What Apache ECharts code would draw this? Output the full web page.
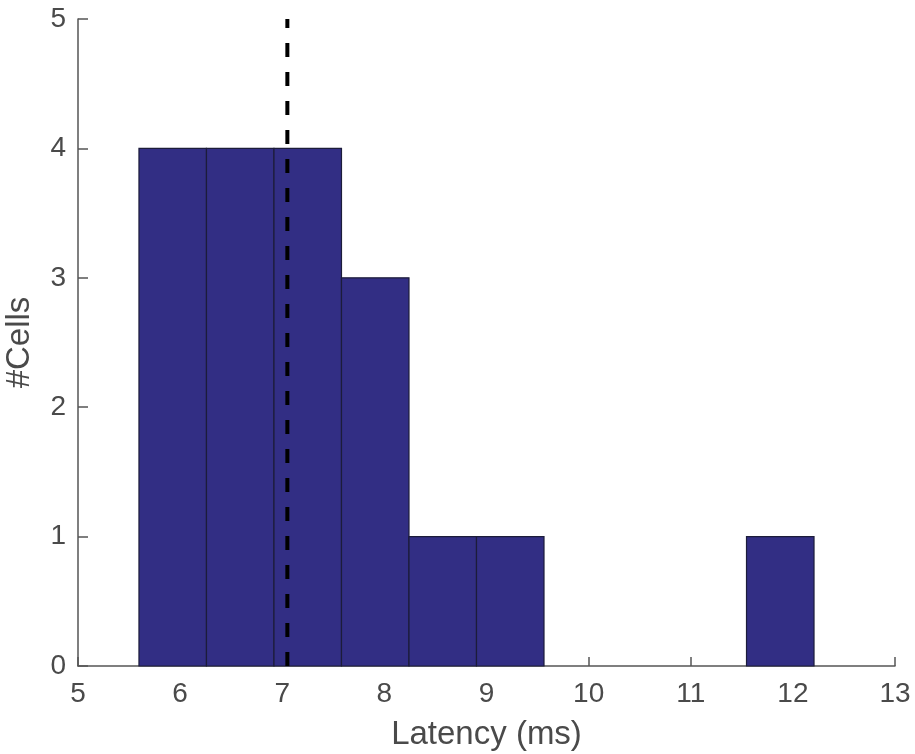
<!DOCTYPE html>
<html>
<head>
<meta charset="utf-8">
<script src="https://cdn.jsdelivr.net/npm/echarts@6/dist/echarts.min.js"></script>
<style>html,body{margin:0;padding:0;background:#fff}#c{width:915px;height:754px}</style>
</head>
<body>
<div id="c"></div>
<script>
const binStarts = [5.597, 6.258, 6.919, 7.580, 8.241, 8.902, 9.563, 10.224, 10.885, 11.546];
const binEnds   = [6.258, 6.919, 7.580, 8.241, 8.902, 9.563, 10.224, 10.885, 11.546, 12.207];
const counts    = [4, 4, 4, 3, 1, 1, 0, 0, 0, 1];
const meanLatency = 7.05;
const xTicks = [5, 13, 1];
const yTicks = [0, 5, 1];
const xTitle = 'Latency (ms)';
const yTitle = '#Cells';

const barData = binStarts.map((s, i) => [s, binEnds[i], counts[i]]);
const textColor = '#4a4a4a';
const font = 'Liberation Sans, Arial, sans-serif';

const chart = echarts.init(document.getElementById('c'));
chart.setOption({
  animation: false,
  grid: { left: 78, right: 20, top: 19, bottom: 88, outerBoundsMode: 'none', containLabel: false },
  xAxis: {
    type: 'value', min: xTicks[0], max: xTicks[1], interval: xTicks[2],
    name: xTitle, nameLocation: 'middle', nameGap: 52,
    nameTextStyle: { fontSize: 33, color: textColor, fontFamily: font },
    axisLine: { lineStyle: { color: '#555', width: 1.5 } },
    axisTick: { inside: true, length: 9, lineStyle: { color: '#555', width: 1.5 } },
    axisLabel: { fontSize: 28, color: textColor, fontFamily: font, margin: 14 },
    splitLine: { show: false }
  },
  yAxis: {
    type: 'value', min: yTicks[0], max: yTicks[1], interval: yTicks[2],
    name: yTitle, nameLocation: 'middle', nameGap: 42, nameRotate: 90,
    nameTextStyle: { fontSize: 33, color: textColor, fontFamily: font },
    axisLine: { show: true, lineStyle: { color: '#555', width: 1.5 } },
    axisTick: { show: true, inside: true, length: 10, lineStyle: { color: '#555', width: 1.5 } },
    axisLabel: { fontSize: 28, color: textColor, fontFamily: font, margin: 12 },
    splitLine: { show: false }
  },
  series: [
    {
      type: 'custom',
      data: barData,
      encode: { x: [0, 1], y: 2 },
      renderItem: function (params, api) {
        const c = api.value(2);
        if (!c) return null;
        const p0 = api.coord([api.value(0), c]);
        const p1 = api.coord([api.value(1), 0]);
        return {
          type: 'rect',
          shape: { x: p0[0], y: p0[1], width: p1[0] - p0[0], height: p1[1] - p0[1] },
          style: { fill: '#322e84', stroke: '#1c1c3a', lineWidth: 1.2 }
        };
      },
      z: 2
    },
    {
      type: 'line',
      data: [[meanLatency, yTicks[0]], [meanLatency, yTicks[1]]],
      symbol: 'none',
      lineStyle: { color: '#000', width: 4, type: [14, 15] },
      z: 5
    }
  ]
});
</script>
</body>
</html>
